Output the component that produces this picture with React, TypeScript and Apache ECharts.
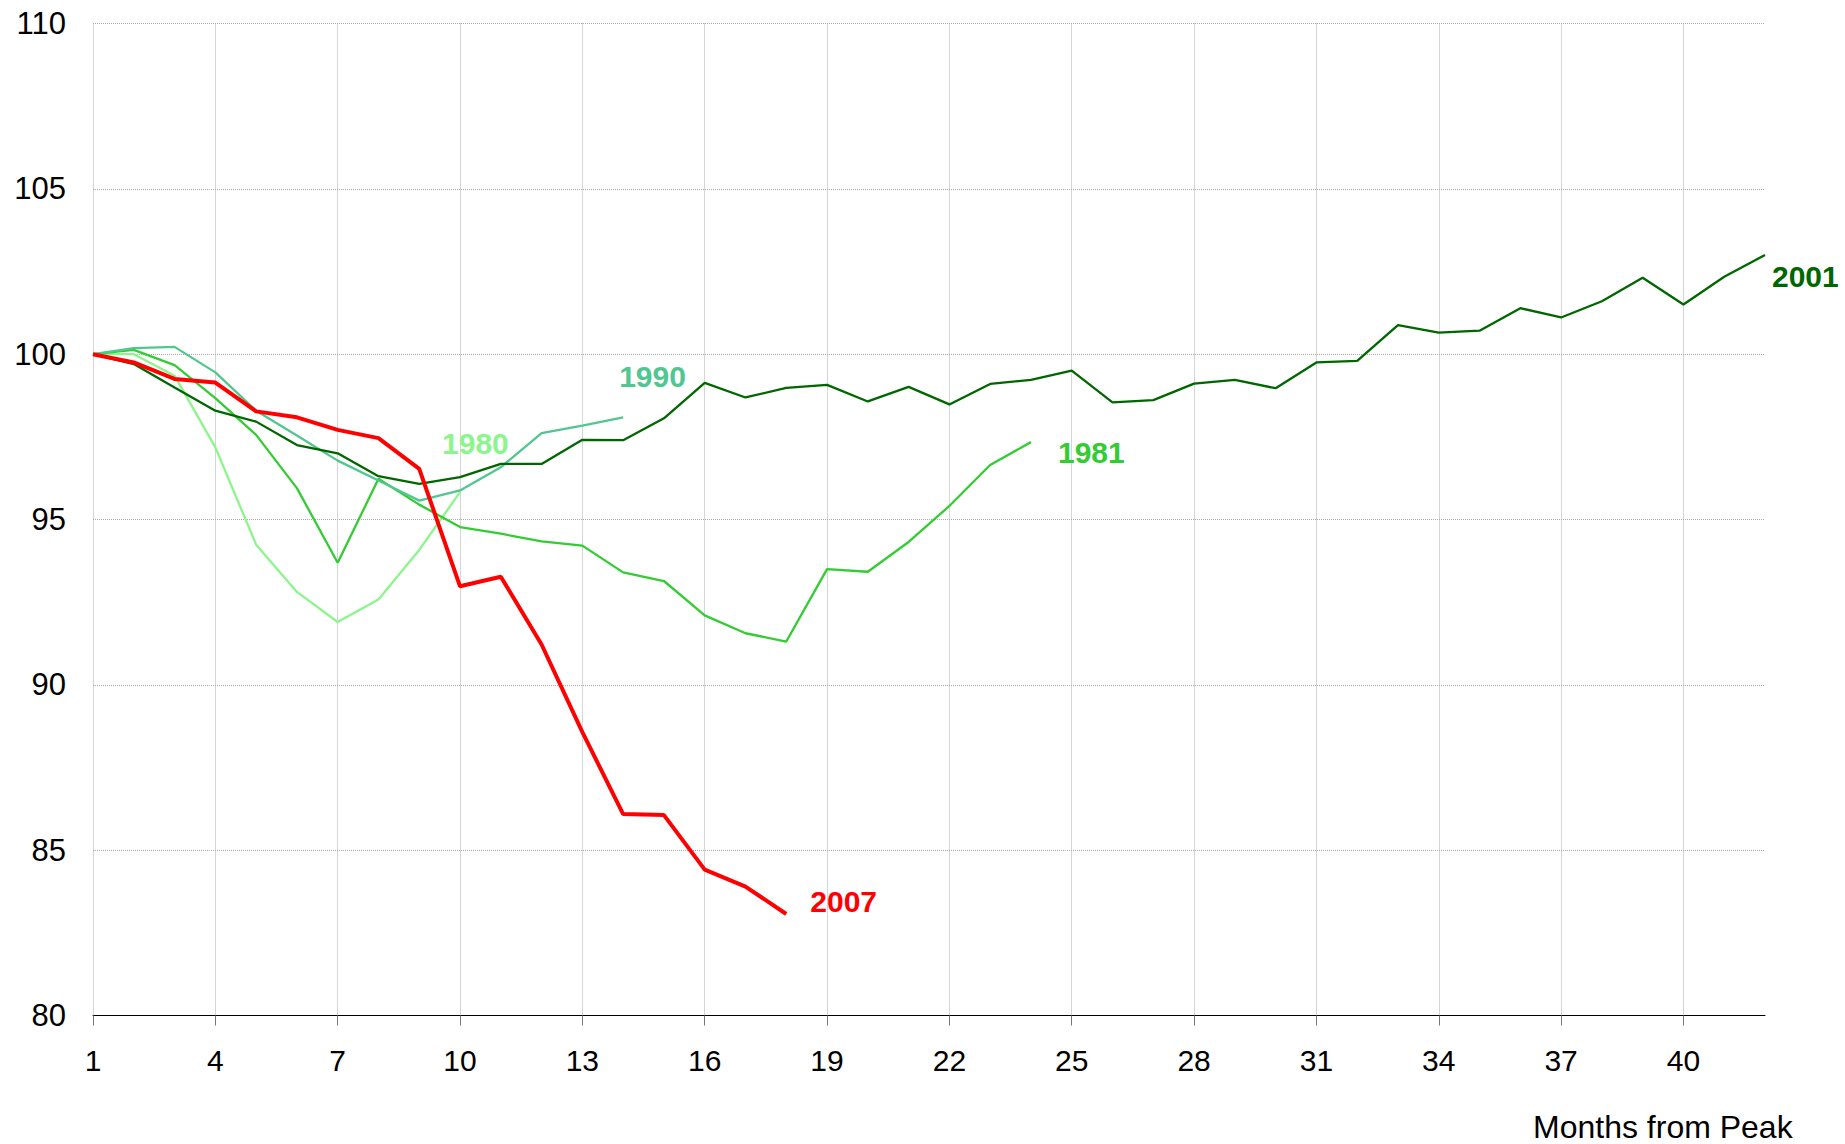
import React, { useEffect, useRef } from "react";
import * as echarts from "echarts";

const months: string[] = Array.from({ length: 42 }, (_, i) => String(i + 1));

const s1980 = [100, 100.0, 99.35, 97.18, 94.24, 92.81, 91.9, 92.58, 94.08, 95.83];
const s1981 = [100, 100.13, 99.67, 98.67, 97.56, 95.95, 93.69, 96.23, 95.45, 94.77, 94.57, 94.34, 94.21, 93.4, 93.14, 92.1, 91.56, 91.31, 93.5, 93.42, 94.32, 95.41, 96.65, 97.34];
const s1990 = [100, 100.18, 100.22, 99.45, 98.29, 97.54, 96.78, 96.18, 95.57, 95.88, 96.58, 97.61, 97.84, 98.09];
const s2001 = [100, 99.7, 98.99, 98.29, 97.96, 97.25, 97.0, 96.31, 96.08, 96.28, 96.68, 96.68, 97.41, 97.4, 98.06, 99.13, 98.69, 98.98, 99.07, 98.57, 99.01, 98.48, 99.1, 99.22, 99.5, 98.54, 98.61, 99.11, 99.22, 98.97, 99.75, 99.8, 100.88, 100.65, 100.71, 101.39, 101.11, 101.6, 102.31, 101.5, 102.34, 103.0];
const s2007 = [100, 99.75, 99.25, 99.14, 98.27, 98.09, 97.71, 97.46, 96.53, 92.98, 93.27, 91.22, 88.57, 86.09, 86.06, 84.41, 83.9, 83.07];

const FONT = "Arial, 'Liberation Sans', Helvetica, sans-serif";

export default function App() {
  const ref = useRef<HTMLDivElement>(null);
  useEffect(() => {
    document.body.style.margin = "0";
    const chart = echarts.init(ref.current!, null, { renderer: "svg" });
    const mk = (name: string, data: number[], color: string, width: number, offset: number[]) => ({
      name,
      type: "line",
      data,
      symbol: "none",
      showSymbol: false,
      lineStyle: { color, width },
      itemStyle: { color },
      emphasis: { disabled: true },
      endLabel: {
        show: true,
        formatter: name,
        distance: 0,
        offset,
        color,
        fontSize: 30,
        fontWeight: "bold",
        fontFamily: FONT,
        align: "left",
        verticalAlign: "middle",
      },
    });
    chart.setOption({
      animation: false,
      backgroundColor: "#ffffff",
      grid: { left: 93, right: 80, top: 23.5, bottom: 128.5, containLabel: false },
      xAxis: {
        type: "category",
        data: months,
        boundaryGap: false,
        axisLine: { show: true, lineStyle: { color: "#000", width: 1 } },
        axisTick: { show: true, interval: 2, length: 10, lineStyle: { color: "#777" } },
        axisLabel: { interval: 2, fontSize: 30, color: "#000", fontFamily: FONT, margin: 30 },
        splitLine: { show: true, interval: 2, lineStyle: { color: "#aaaaaa", type: "dotted", width: 1 } },
      },
      yAxis: {
        type: "value",
        min: 80,
        max: 110,
        interval: 5,
        axisLine: { show: false },
        axisTick: { show: false },
        axisLabel: { fontSize: 31, color: "#000", fontFamily: FONT, margin: 27 },
        splitLine: { show: true, lineStyle: { color: "#aaaaaa", type: "dotted", width: 1 } },
      },
      graphic: [
        {
          type: "text",
          left: 1533,
          top: 1111,
          style: { text: "Months from Peak", fontSize: 32, lineHeight: 32, fill: "#000", fontFamily: FONT },
        },
      ],
      series: [
        mk("1980", s1980, "#8cf58c", 2.3, [-18, -49]),
        mk("1981", s1981, "#33cc33", 2.3, [27, 10]),
        mk("1990", s1990, "#52c690", 2.3, [-4, -41]),
        mk("2001", s2001, "#006600", 2.3, [7, 22]),
        mk("2007", s2007, "#ff0000", 4, [24, -12]),
      ],
    });
    return () => chart.dispose();
  }, []);
  return <div ref={ref} style={{ width: 1845, height: 1144 }} />;
}
